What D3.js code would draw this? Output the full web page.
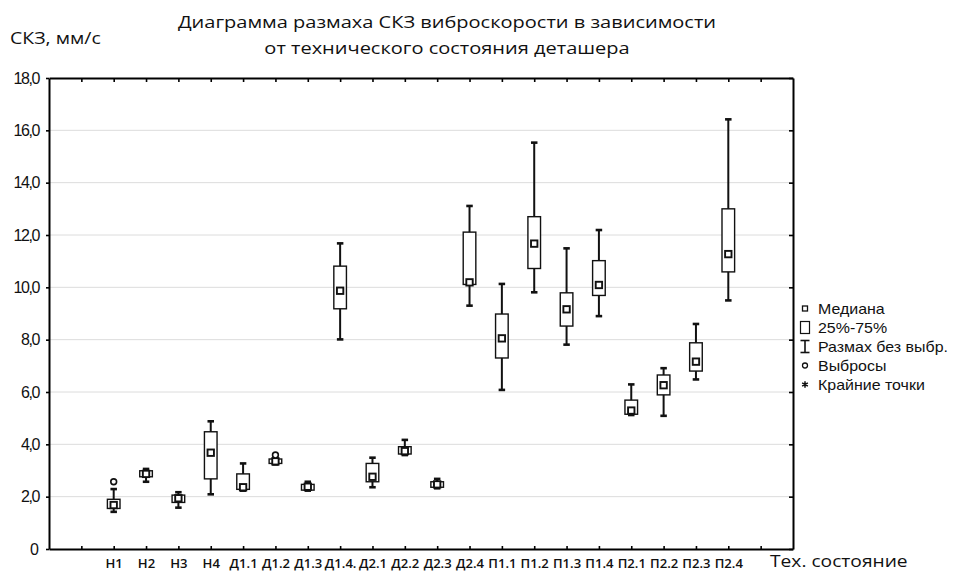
<!DOCTYPE html>
<html>
<head>
<meta charset="utf-8">
<script src="https://cdn.jsdelivr.net/npm/d3@7"></script>
<style>
  html, body { margin: 0; padding: 0; background: #fff; }
  svg { display: block; }
</style>
</head>
<body>
<svg id="chart" width="955" height="573"></svg>
<script>
// ---- data (values in axis units, as labelled on the y axis) ----
const categories = ["Н1","Н2","Н3","Н4","Д1.1","Д1.2","Д1.3","Д1.4.","Д2.1","Д2.2","Д2.3","Д2.4","П1.1","П1.2","П1.3","П1.4","П2.1","П2.2","П2.3","П2.4"];
const whiskerLow  = [1.42, 2.57, 1.58, 2.09, 2.23, 3.23, 2.23, 8.01, 2.36, 3.59, 2.32, 9.30, 6.08, 9.81, 7.81, 8.90, 5.12, 5.09, 6.48, 9.50];
const q1          = [1.55, 2.76, 1.78, 2.68, 2.28, 3.27, 2.25, 9.18, 2.57, 3.63, 2.36, 10.11, 7.30, 10.72, 8.52, 9.69, 5.15, 5.89, 6.80, 10.59];
const median      = [1.68, 2.87, 1.94, 3.68, 2.36, 3.35, 2.38, 9.87, 2.76, 3.74, 2.47, 10.19, 8.05, 11.67, 9.16, 10.09, 5.29, 6.26, 7.16, 11.27];
const q3          = [1.90, 2.99, 2.06, 4.48, 2.87, 3.44, 2.47, 10.81, 3.27, 3.91, 2.57, 12.11, 8.98, 12.70, 9.79, 11.02, 5.69, 6.65, 7.88, 13.00];
const whiskerHigh = [2.29, 3.06, 2.17, 4.88, 3.27, 3.48, 2.57, 11.68, 3.49, 4.17, 2.68, 13.11, 10.13, 15.53, 11.49, 12.19, 6.29, 6.91, 8.60, 16.42];
const outlierCats = ["Н1", "Д1.2"];
const outlierVals = [2.57, 3.59];
const yTicks = [0, 2, 4, 6, 8, 10, 12, 14, 16, 18];
const gridTicks = [2, 4, 6, 8, 10, 12, 14, 16];
const titleLines = ["Диаграмма размаха СКЗ виброскорости в зависимости", "от технического состояния деташера"];
const yTitle = "СКЗ, мм/с";
const xTitle = "Тех. состояние";
const legendLabels = ["Медиана", "25%-75%", "Размах без выбр.", "Выбросы", "Крайние точки"];

// ---- layout ----
const svg = d3.select("#chart");
const plot = { left: 49, right: 793, top: 78, bottom: 549 };
const INK = "#111";
const SANS = "'Open Sans', sans-serif";
const ARIAL = "'Liberation Sans', Arial, sans-serif";

const slots = ["_start", ...categories, "_end"];
const x = d3.scalePoint().domain(slots).range([plot.left, plot.right]).padding(1);
const y = d3.scaleLinear().domain([0, 18]).range([plot.bottom, plot.top]);
const boxW = x.step() * 0.39;
const capW = 6.5;

// horizontally stretched text (the reference picture is a widened raster)
function wideText(parent, px, py, txt, size, sx, anchor, family, weight) {
  return parent.append("text")
    .attr("transform", `translate(${px},${py}) scale(${sx},1)`)
    .attr("text-anchor", anchor || "start")
    .attr("font-family", family || SANS)
    .attr("font-weight", weight || 400)
    .attr("font-size", size).attr("fill", INK)
    .text(txt);
}

// gridlines
svg.append("g").selectAll("line").data(gridTicks).join("line")
  .attr("x1", plot.left).attr("x2", plot.right)
  .attr("y1", d => y(d)).attr("y2", d => y(d))
  .attr("stroke", "#dcdcdc").attr("stroke-width", 1);

// axes
const axisStyle = g => {
  g.select(".domain").attr("stroke", "#000").attr("stroke-width", 2);
  g.selectAll(".tick line").attr("stroke", "#000").attr("stroke-width", 1.6);
};

svg.append("g").attr("transform", `translate(0,${plot.bottom})`)
  .call(d3.axisBottom(x).tickSizeInner(-3).tickSizeOuter(0).tickPadding(10)
        .tickFormat(d => d.startsWith("_") ? "" : d))
  .call(axisStyle)
  .call(g => g.selectAll("text")
    .attr("font-family", SANS).attr("font-weight", 600).attr("font-size", 12.5)
    .attr("fill", INK).attr("transform", "scale(1.05,1)"));

svg.append("g").attr("transform", `translate(0,${plot.top})`)
  .call(d3.axisTop(x).tickSizeInner(-4).tickSizeOuter(0).tickFormat(""))
  .call(axisStyle);

// y axis: labels like "18,0", set tight so the comma tucks between the digits
svg.append("g").attr("transform", `translate(${plot.left},0)`)
  .call(d3.axisLeft(y).tickValues(yTicks).tickSizeInner(3).tickSizeOuter(0).tickPadding(7)
        .tickFormat(d => d === 0 ? "0" : d3.format(".1f")(d).replace(".", ",")))
  .call(axisStyle)
  .call(g => g.selectAll("text")
    .attr("font-family", ARIAL).attr("font-size", 16).attr("fill", INK)
    .attr("letter-spacing", d => d === 0 ? "0px" : "-1.4px"));

svg.append("g").attr("transform", `translate(${plot.right},0)`)
  .call(d3.axisRight(y).tickValues(yTicks).tickSizeInner(-4).tickSizeOuter(0).tickFormat(""))
  .call(axisStyle);

// boxes
const boxes = categories.map((c, i) => ({ c, lo: whiskerLow[i], q1: q1[i], med: median[i], q3: q3[i], hi: whiskerHigh[i] }));
const bg = svg.append("g").selectAll("g").data(boxes).join("g")
  .attr("transform", d => `translate(${x(d.c)},0)`);

bg.append("line").attr("x1", 0).attr("x2", 0)
  .attr("y1", d => y(d.hi)).attr("y2", d => y(d.lo))
  .attr("stroke", INK).attr("stroke-width", 2);
bg.append("line").attr("x1", -capW / 2).attr("x2", capW / 2)
  .attr("y1", d => y(d.hi)).attr("y2", d => y(d.hi))
  .attr("stroke", INK).attr("stroke-width", 2.6);
bg.append("line").attr("x1", -capW / 2).attr("x2", capW / 2)
  .attr("y1", d => y(d.lo)).attr("y2", d => y(d.lo))
  .attr("stroke", INK).attr("stroke-width", 2.6);
bg.append("rect").attr("x", -boxW / 2).attr("width", boxW)
  .attr("y", d => y(d.q3)).attr("height", d => y(d.q1) - y(d.q3))
  .attr("fill", "#fff").attr("stroke", INK).attr("stroke-width", 1.4);
bg.append("rect").attr("x", -3.2).attr("width", 6.4)
  .attr("y", d => y(d.med) - 3.2).attr("height", 6.4)
  .attr("fill", "#fff").attr("stroke", INK).attr("stroke-width", 1.9);

// outliers
svg.append("g").selectAll("circle").data(outlierCats.map((c, i) => ({ c, v: outlierVals[i] }))).join("circle")
  .attr("cx", d => x(d.c)).attr("cy", d => y(d.v)).attr("r", 2.9)
  .attr("fill", "#fff").attr("stroke", INK).attr("stroke-width", 1.6);

// titles
titleLines.forEach((t, i) => wideText(svg, 447, 28 + i * 26, t, 16, 1.25, "middle"));
wideText(svg, 10, 44, yTitle, 16, 1.22, "start");
wideText(svg, 770, 567, xTitle, 16, 1.2, "start");

// legend
const lg = svg.append("g").attr("transform", "translate(805,0)");
const rowY = i => 308.5 + i * 19;
const items = lg.selectAll("g").data(legendLabels).join("g")
  .attr("transform", (d, i) => `translate(0,${rowY(i)})`);
items.append("text").attr("transform", "translate(13,0) scale(1.14,1)").attr("dy", "0.36em")
  .attr("font-family", ARIAL).attr("font-size", 14).attr("fill", INK)
  .text(d => d);
items.filter((d, i) => i === 0).append("rect")
  .attr("x", -2.5).attr("y", -2.5).attr("width", 5).attr("height", 5)
  .attr("fill", "#fff").attr("stroke", INK).attr("stroke-width", 1.3);
items.filter((d, i) => i === 1).append("rect")
  .attr("x", -4.5).attr("y", -6).attr("width", 9).attr("height", 12)
  .attr("fill", "#fff").attr("stroke", INK).attr("stroke-width", 1.2);
const wk = items.filter((d, i) => i === 2);
wk.append("line").attr("x1", 0).attr("x2", 0).attr("y1", -6).attr("y2", 6).attr("stroke", INK).attr("stroke-width", 1.6);
wk.append("line").attr("x1", -4.5).attr("x2", 4.5).attr("y1", -6).attr("y2", -6).attr("stroke", INK).attr("stroke-width", 1.6);
wk.append("line").attr("x1", -4.5).attr("x2", 4.5).attr("y1", 6).attr("y2", 6).attr("stroke", INK).attr("stroke-width", 1.6);
items.filter((d, i) => i === 3).append("circle")
  .attr("r", 2.5).attr("fill", "#fff").attr("stroke", INK).attr("stroke-width", 1.3);
items.filter((d, i) => i === 4).append("path")
  .attr("d", d3.symbol().type(d3.symbolAsterisk).size(30))
  .attr("fill", "none").attr("stroke", INK).attr("stroke-width", 1.5);
</script>
</body>
</html>
